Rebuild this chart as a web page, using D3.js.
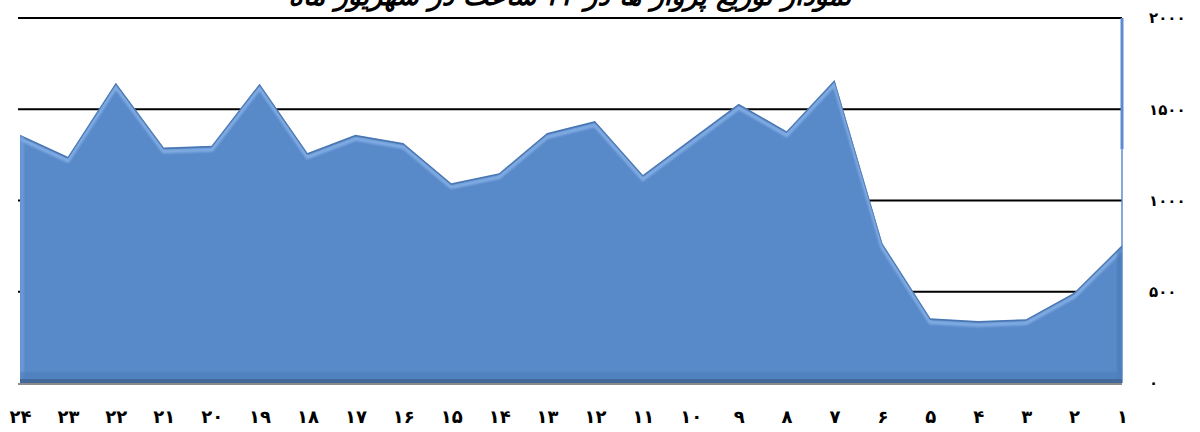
<!DOCTYPE html>
<html><head><meta charset="utf-8">
<script src="https://cdn.jsdelivr.net/npm/d3@7"></script>
<style>
html,body{margin:0;padding:0;background:#fff;}
svg{display:block;}
text{font-family:"DejaVu Sans",sans-serif;}
</style></head>
<body>
<svg id="c" width="1200" height="432"></svg>
<script>
const hours = [24,23,22,21,20,19,18,17,16,15,14,13,12,11,10,9,8,7,6,5,4,3,2,1];
const flights = [1360,1240,1645,1290,1300,1640,1260,1360,1315,1095,1150,1370,1435,1140,1335,1530,1380,1660,765,355,340,350,495,755];
const yTicks = [0,500,1000,1500,2000];
const title = "نمودار توزیع پرواز ها در ۲۴ ساعت در شهریور ماه";

const fa = n => String(n).replace(/\d/g, d => "۰۱۲۳۴۵۶۷۸۹"[d]);
const data = hours.map((h,i)=>({h, v: flights[i]}));

const svg = d3.select("#c");
const x = d3.scalePoint().domain(hours).range([20,1122]);
const y = d3.scaleLinear().domain([0,2000]).range([383,18]);

const defs = svg.append("defs");
defs.append("filter").attr("id","blur").append("feGaussianBlur").attr("stdDeviation",1.2);
defs.append("clipPath").attr("id","clipA").append("path")
  .attr("d", d3.area().x(d=>x(d.h)).y0(y(0)).y1(d=>y(d.v))(data));

// gridlines
svg.append("g").selectAll("line").data(yTicks.filter(t=>t>0)).join("line")
  .attr("x1",18).attr("x2",1122).attr("y1",d=>y(d)).attr("y2",d=>y(d))
  .attr("stroke","#000").attr("stroke-width",2);

// right vertical axis line (blue)
svg.append("line").attr("x1",1122).attr("x2",1122).attr("y1",y(2000)).attr("y2",y(1280))
  .attr("stroke","#5b8bd0").attr("stroke-width",3);
svg.append("line").attr("x1",1122).attr("x2",1122).attr("y1",y(1280)).attr("y2",y(0))
  .attr("stroke","#5b8bd0").attr("stroke-width",1.5);

// area
const g = svg.append("g");
g.append("path").datum(data)
  .attr("d", d3.area().x(d=>x(d.h)).y0(y(0)).y1(d=>y(d.v)))
  .attr("fill","#5889c9");
const inner = g.append("g").attr("clip-path","url(#clipA)");
inner.append("path").datum(data)
  .attr("d", d3.line().x(d=>x(d.h)).y(d=>y(d.v)+4))
  .attr("fill","none").attr("stroke","#8fb8ec").attr("stroke-width",4).attr("opacity",0.75)
  .attr("filter","url(#blur)");
inner.append("path").datum(data)
  .attr("d", d3.line().x(d=>x(d.h)).y(d=>y(d.v)+1))
  .attr("fill","none").attr("stroke","#3e669c").attr("stroke-width",1.5).attr("opacity",0.6);
inner.append("rect").attr("x",20).attr("y",0).attr("width",4).attr("height",383)
  .attr("fill","#7aa5dd").attr("opacity",0.6).attr("filter","url(#blur)");
inner.append("rect").attr("x",1117).attr("y",0).attr("width",5).attr("height",383)
  .attr("fill","#4a78b4").attr("opacity",0.6).attr("filter","url(#blur)");
inner.append("rect").attr("x",20).attr("y",372).attr("width",1102).attr("height",8)
  .attr("fill","#4f7fbc").attr("opacity",0.7).attr("filter","url(#blur)");
inner.append("rect").attr("x",20).attr("y",379).attr("width",1102).attr("height",4)
  .attr("fill","#43689a");

// baseline
svg.append("line").attr("x1",18).attr("x2",1122).attr("y1",384).attr("y2",384)
  .attr("stroke","#8a8a8a").attr("stroke-width",2);

// y axis labels (right)
const ya = svg.append("g").attr("transform","translate(1149,0)")
  .call(d3.axisRight(y).tickValues(yTicks).tickFormat(fa).tickSize(0).tickPadding(0));
ya.select(".domain").remove();
ya.selectAll("text").attr("font-size",15).attr("font-weight","bold").attr("fill","#000")
  .attr("text-anchor","start").style("font-family","DejaVu Sans");

// x axis labels
const xa = svg.append("g").attr("transform","translate(0,410)")
  .call(d3.axisBottom(x).tickFormat(fa).tickSize(0).tickPadding(0));
xa.select(".domain").remove();
xa.selectAll("text").attr("font-size",18).attr("font-weight","bold").attr("fill","#000")
  .style("font-family","DejaVu Sans");

// title (cut off at top as in the reference)
svg.append("text").attr("x",570).attr("y",5).attr("text-anchor","middle")
  .attr("direction","rtl")
  .attr("font-size",27).attr("font-weight","bold").attr("font-style","italic").text(title);
</script>
</body></html>
